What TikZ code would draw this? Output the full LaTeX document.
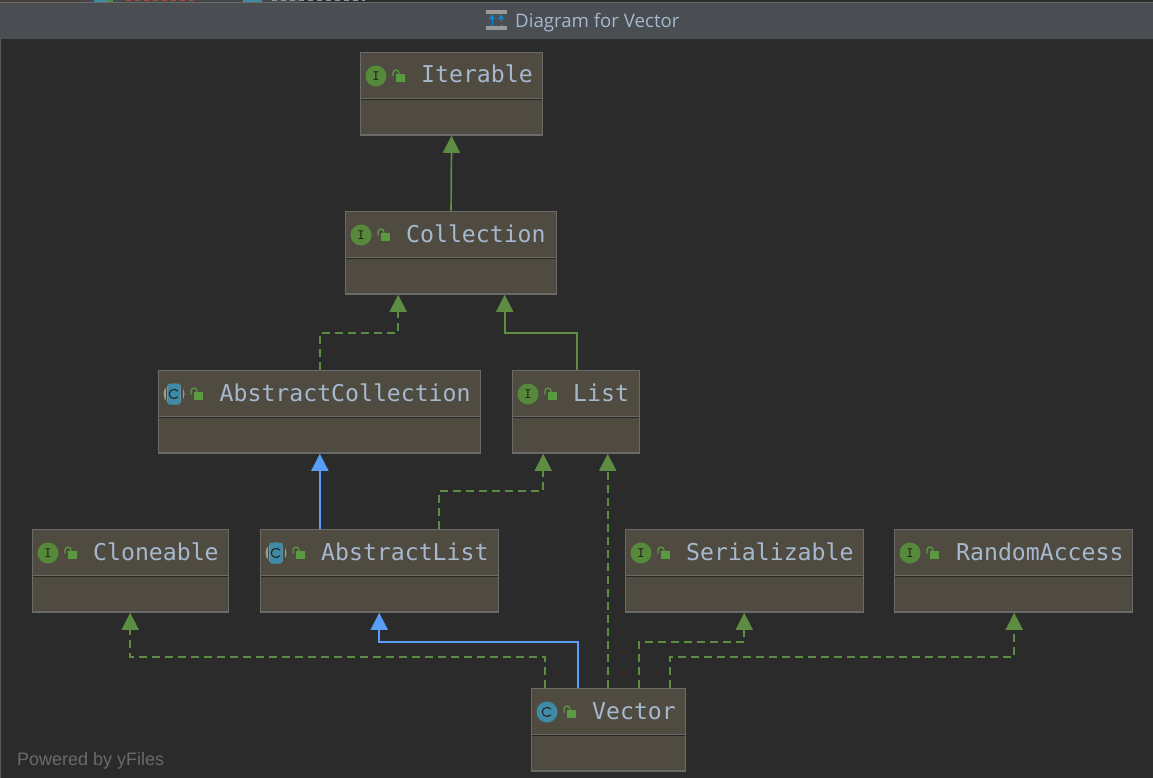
\documentclass[tikz,border=0pt]{standalone}
\usepackage{fontspec}
\setmainfont{Open Sans}
\setmonofont{DejaVu Sans Mono}
\newfontfamily\poweredfont{Liberation Sans}
\usetikzlibrary{arrows.meta,calc}
\definecolor{bg}{HTML}{2B2B2B}
\definecolor{bar}{HTML}{4A4D52}
\definecolor{boxfill}{HTML}{4F4B41}
\definecolor{boxline}{HTML}{6A6A68}
\definecolor{sepline}{HTML}{26251F}
\definecolor{txt}{HTML}{A6B8CE}
\definecolor{grn}{HTML}{5C8D43}
\definecolor{lockgrn}{HTML}{5A9A40}
\definecolor{iconI}{HTML}{568A3A}
\definecolor{iconC}{HTML}{3F8AA6}
\definecolor{blu}{HTML}{589DF6}
\definecolor{sidegray}{HTML}{9A9A9A}
\definecolor{poweredby}{HTML}{6A6A6A}
\definecolor{tabred}{HTML}{B0483E}
\tikzset{
  x=1pt,y=-1pt,
  cls/.style={draw=boxline,line width=1.4pt,fill=boxfill,inner sep=0pt,anchor=north west,minimum height=82.7pt,xshift=-0.3pt,yshift=0.3pt},
  lbl/.style={inner sep=0pt,anchor=base west,text=txt,font=\ttfamily\fontsize{23.15}{23}\selectfont},
  tip/.style={-{Triangle[width=17pt,length=17pt]}},
  inh/.style={grn,line width=1.7pt,tip},
  impl/.style={grn,line width=1.7pt,tip,dash pattern=on 8pt off 5pt},
  ext/.style={blu,line width=1.8pt,tip},
}
\newcommand{\ifaceicon}[2]{%
  \fill[iconI] (#1,#2) circle (10.5);
  \node[inner sep=0pt,text=sepline,font=\ttfamily\fontsize{12}{12}\selectfont] at (#1,#2) {I};}
\newcommand{\classicon}[2]{%
  \fill[iconC] (#1,#2) circle (10.5);
  \draw[sepline,line width=1.1pt] ($(#1,#2)+(4,-3)$) arc[start angle=-40,end angle=-320,radius=5,y radius=4.5];}
\newcommand{\abstracticon}[2]{%
  \fill[sidegray] (#1,#2) circle (10.5);
  \fill[boxfill] ($(#1,#2)+(-8.5,-11)$) rectangle ($(#1,#2)+(-7,11)$);
  \fill[boxfill] ($(#1,#2)+(7,-11)$) rectangle ($(#1,#2)+(8.5,11)$);
  \fill[iconC,rounded corners=2pt] ($(#1,#2)+(-6.5,-10.5)$) rectangle ($(#1,#2)+(6.5,10.5)$);
  \draw[sepline,line width=1.1pt] ($(#1,#2)+(4,-3)$) arc[start angle=-40,end angle=-320,radius=5,y radius=4.5];}
\newcommand{\lockicon}[2]{%
  \fill[lockgrn] ($(#1,#2)+(-3.3,-1)$) rectangle ($(#1,#2)+(5.7,6.7)$);
  \draw[lockgrn,line width=1.2pt] ($(#1,#2)+(-6,1.5)$) -- ($(#1,#2)+(-6,-2)$) arc[start angle=180,end angle=360,radius=3] -- ($(#1,#2)+(0,-1)$);}
\newcommand{\umlbox}[7]{% name,x,y,w,icon macro,text x,text
  \node[cls,minimum width=#4pt-0.7pt] (#1) at (#2,#3) {};
  \draw[sepline,line width=1.4pt] ($(#1.north west)+(1.4,47.5)$) -- ($(#1.north east)+(-1.4,47.5)$);
  \draw[boxline,line width=0.8pt] ($(#1.north west)+(1.4,46.3)$) -- ($(#1.north east)+(-1.4,46.3)$);
  #5{\the\numexpr#2+\iconoff\relax}{\the\numexpr#3+24\relax}
  \lockicon{\the\numexpr#2+\lockoff\relax}{\the\numexpr#3+23\relax}
  \node[lbl] (#1-label) at (#6,\the\numexpr#3+31\relax) {#7};
}
\newcommand{\iconoff}{16}
\newcommand{\lockoff}{39}
\begin{document}
\begin{tikzpicture}
\useasboundingbox (0,0) rectangle (1153,778);
\fill[bg] (0,0) rectangle (1153,778);
% clipped tab strip
\fill[boxfill!70!bg] (0,0) rectangle (80,2);
\fill[bar!80!bg] (80,0) rectangle (300,2);
\fill[iconC] (94,0) rectangle (108,2);
\fill[iconI] (108,0) rectangle (113,2);
\draw[tabred,line width=1pt,dash pattern=on 5pt off 4pt] (126,0.6) -- (193,0.6);
\fill[iconC] (243,0) rectangle (262,2);
\draw[txt!70!bar,line width=1pt,dash pattern=on 5pt off 4pt] (272,0.6) -- (365,0.6);
\fill[boxline] (0,2) rectangle (1153,3);
\fill[bar] (0,3) rectangle (1153,39);
\fill[boxline!70!bg] (0,39) rectangle (1.2,778);
% title icon
\fill[sidegray] (486,10) rectangle (507,14);
\fill[sidegray] (486,26) rectangle (507,30);
\draw[-{Triangle[width=6pt,length=5pt]},cyan!70!blue,line width=1pt] (492,26) -- (492,14.5);
\draw[-{Triangle[width=6pt,length=5pt]},cyan!70!blue,line width=1pt,dash pattern=on 2pt off 1.5pt] (501,26) -- (501,14.5);
\node[inner sep=0pt,anchor=base west,text=txt,font=\fontsize{18.65}{19}\selectfont] (title) at (515,27.5) {Diagram for Vector};
% classes
\umlbox{iterable}{360}{52}{183}{\ifaceicon}{421}{Iterable}
\umlbox{collection}{345}{211}{212}{\ifaceicon}{406}{Collection}
\umlbox{abscoll}{158}{370}{323}{\abstracticon}{219.5}{AbstractCollection}
\umlbox{list}{512}{370}{128}{\ifaceicon}{573}{List}
\umlbox{cloneable}{32}{529}{197}{\ifaceicon}{93}{Cloneable}
\umlbox{abslist}{260}{529}{239}{\abstracticon}{321}{AbstractList}
\umlbox{serial}{625}{529}{239}{\ifaceicon}{686}{Serializable}
\umlbox{random}{894}{529}{239}{\ifaceicon}{956}{RandomAccess}
\umlbox{vector}{531}{688}{155}{\classicon}{592}{Vector}
% connectors
\draw[inh] (collection.north) -- (iterable.south);
\draw[impl] ($(abscoll.north)+(0.3,0)$) -- ++(0,-37) -| ($(collection.south west)+(53.5,0)$);
\draw[inh] ($(list.north west)+(65,0)$) -- ++(0,-37) -| ($(collection.south west)+(160,0)$);
\draw[ext] ($(abscoll.south |- abslist.north)+(0.3,0)$) -- ($(abscoll.south)+(0.3,0)$);
\draw[impl] ($(abslist.north west)+(179.5,0)$) -- ++(0,-38) -| ($(list.south west)+(31.5,0)$);
\draw[impl] ($(vector.north west)+(77,0)$) -- ($(list.south west)+(96,0)$);
\draw[ext] ($(vector.north west)+(47,0)$) -- ++(0,-46) -| ($(abslist.south west)+(119.5,0)$);
\draw[impl] ($(vector.north west)+(14.5,0)$) -- ++(0,-31) -| ($(cloneable.south west)+(98.5,0)$);
\draw[impl] ($(vector.north west)+(108.5,0)$) -- ++(0,-46) -| ($(serial.south west)+(119.5,0)$);
\draw[impl] ($(vector.north west)+(139.5,0)$) -- ++(0,-31) -| ($(random.south west)+(120.5,0)$);
\node[inner sep=0pt,anchor=base west,text=poweredby,font=\poweredfont\fontsize{18}{18}\selectfont] (powered) at (17,765.5) {Powered by yFiles};
\end{tikzpicture}
\end{document}
